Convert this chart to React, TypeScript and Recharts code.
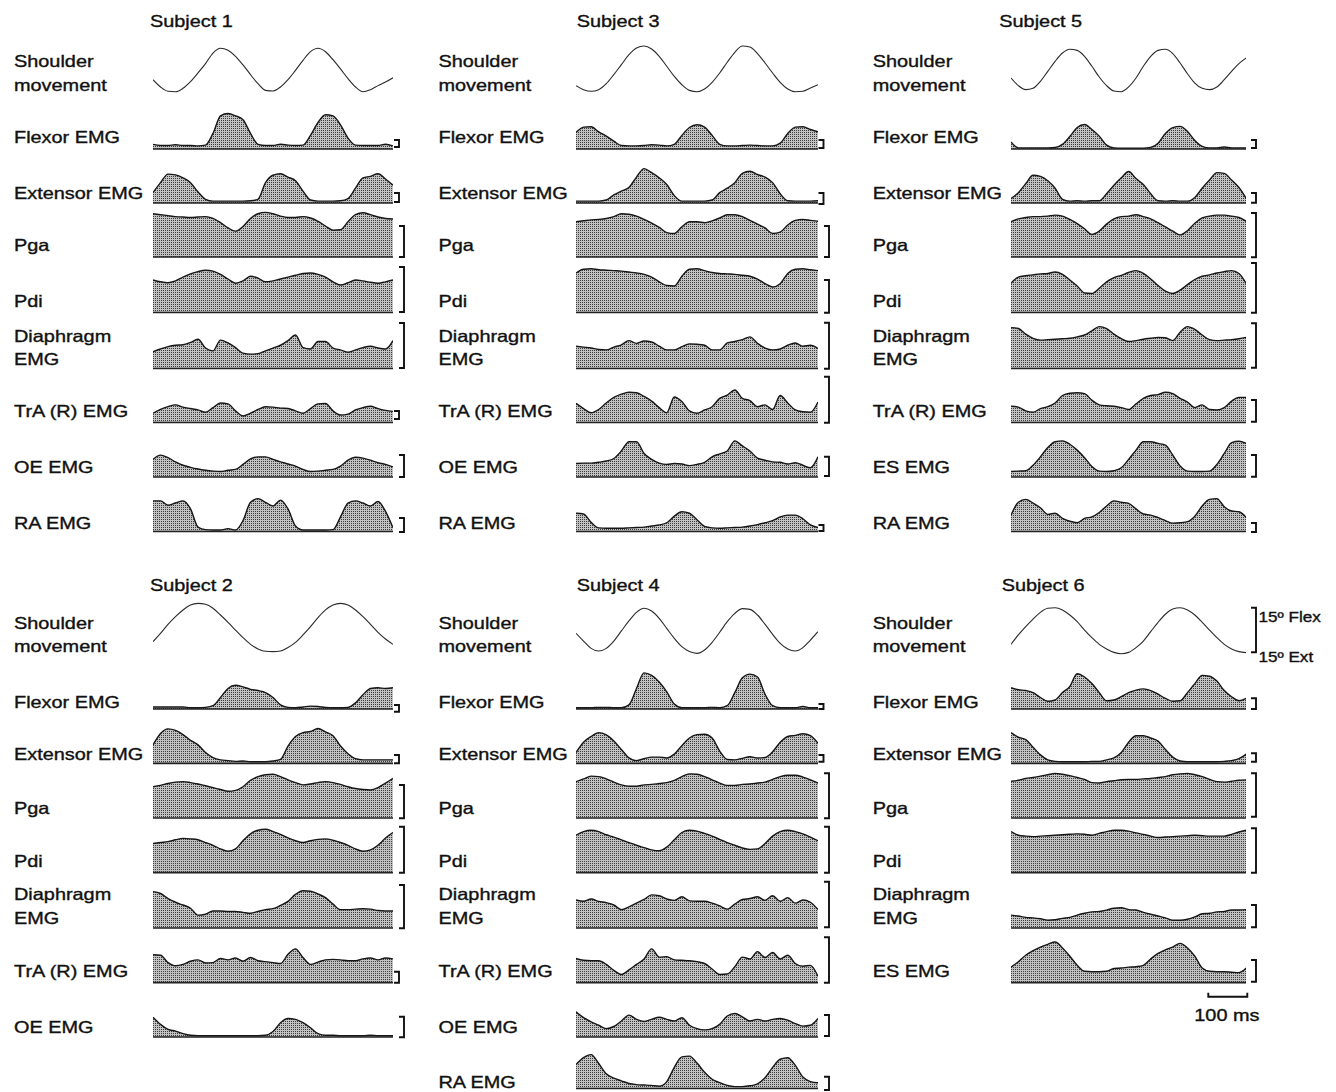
import React from 'react';
import { AreaChart, Area, LineChart, Line, XAxis, YAxis, ReferenceLine } from 'recharts';

// Shoulder movement traces are in degrees (+ = flexion), EMG / pressure traces
// are in % of the row height. Every trace has 33 evenly spaced samples.

// Subject 1
const s1Shoulder = [-6.5, -11.4, -14.3, -14.6, -12.3, -7.8, -2.0, 4.3, 11.4, 14.6, 13.2, 9.2, 3.4, -3.1, -9.2, -13.7, -14.1, -11.4, -6.5, -0.2, 6.5, 12.3, 14.6, 12.3, 6.9, 0.7, -5.8, -11.4, -14.6, -13.2, -10.5, -8.1, -5.2];
const s1Flexor = [12, 9, 9, 11, 9, 9, 8, 10, 40, 85, 91, 85, 75, 40, 12, 9, 9, 12, 10, 9, 10, 35, 68, 88, 85, 62, 28, 10, 9, 9, 9, 12, 8];
const s1Extensor = [28, 55, 78, 76, 68, 55, 30, 10, 5, 5, 5, 5, 5, 6, 10, 55, 75, 79, 70, 60, 32, 8, 5, 5, 5, 6, 12, 40, 68, 72, 79, 65, 48];
const s1Pga = [92, 90, 88, 86, 85, 84, 85, 86, 82, 73, 62, 55, 65, 82, 92, 95, 92, 87, 84, 84, 86, 83, 76, 66, 57, 58, 75, 90, 94, 90, 85, 82, 81];
const s1Pdi = [70, 66, 64, 68, 76, 83, 88, 91, 89, 82, 72, 63, 68, 78, 74, 66, 68, 72, 76, 80, 84, 85, 82, 76, 66, 59, 64, 70, 68, 65, 63, 66, 70];
const s1Diaphragm = [36, 42, 47, 50, 51, 56, 63, 44, 38, 61, 55, 45, 33, 31, 32, 38, 44, 50, 60, 72, 45, 42, 58, 58, 44, 40, 35, 40, 45, 48, 44, 42, 60];
const s1TrA = [20, 28, 34, 38, 33, 30, 27, 22, 32, 42, 40, 25, 14, 20, 28, 34, 33, 31, 30, 25, 20, 30, 40, 41, 25, 16, 18, 27, 32, 35, 30, 26, 24];
const s1OE = [42, 52, 46, 36, 28, 23, 19, 16, 14, 13, 16, 18, 30, 43, 48, 48, 42, 36, 31, 26, 18, 13, 14, 16, 18, 26, 40, 47, 45, 40, 34, 30, 24];
const s1RA = [84, 84, 72, 78, 84, 62, 12, 5, 4, 4, 8, 4, 30, 80, 90, 80, 70, 86, 62, 15, 4, 4, 4, 4, 5, 40, 78, 84, 78, 70, 82, 55, 10];

// Subject 3
const s3Shoulder = [-10.5, -13.2, -14.3, -13.2, -9.2, -3.1, 3.6, 10.3, 14.8, 16.1, 14.1, 9.2, 2.5, -4.3, -9.9, -13.7, -14.6, -12.8, -8.3, -2.0, 5.2, 11.9, 16.1, 15.5, 11.0, 4.7, -2.0, -8.3, -12.8, -14.6, -14.3, -12.1, -9.9];
const s3Flexor = [42, 56, 57, 44, 33, 20, 9, 8, 8, 9, 11, 10, 8, 12, 35, 55, 62, 56, 35, 12, 8, 8, 9, 10, 9, 8, 8, 15, 40, 56, 57, 50, 44];
const s3Extensor = [5, 5, 5, 5, 8, 22, 32, 42, 70, 93, 82, 68, 50, 20, 5, 5, 5, 5, 8, 28, 40, 55, 80, 86, 77, 70, 55, 25, 6, 5, 5, 5, 6];
const s3Pga = [75, 77, 79, 80, 82, 86, 92, 91, 87, 80, 72, 63, 52, 50, 64, 75, 75, 73, 77, 83, 90, 90, 86, 78, 70, 62, 50, 53, 68, 78, 80, 78, 76];
const s3Pdi = [85, 93, 94, 92, 91, 90, 89, 87, 85, 82, 76, 66, 58, 57, 78, 93, 94, 90, 86, 84, 83, 82, 80, 78, 72, 62, 55, 62, 84, 93, 94, 92, 90];
const s3Diaphragm = [48, 46, 44, 41, 40, 46, 51, 60, 54, 59, 57, 48, 40, 40, 47, 53, 52, 50, 40, 40, 55, 58, 62, 68, 54, 44, 40, 42, 50, 55, 48, 50, 43];
const s3TrA = [41, 30, 21, 28, 42, 54, 61, 65, 64, 56, 46, 32, 21, 55, 45, 25, 20, 27, 34, 52, 59, 70, 52, 47, 34, 38, 28, 58, 42, 27, 23, 22, 44];
const s3OE = [32, 33, 33, 35, 38, 44, 62, 84, 84, 56, 42, 33, 30, 32, 31, 27, 30, 35, 48, 55, 62, 86, 74, 62, 45, 40, 36, 35, 31, 34, 28, 22, 48];
const s3RA = [50, 48, 25, 10, 9, 9, 9, 10, 11, 12, 15, 18, 24, 42, 54, 50, 32, 14, 10, 9, 10, 11, 12, 15, 19, 24, 30, 40, 45, 45, 35, 18, 11];

// Subject 5
const s5Shoulder = [-5.4, -10.5, -13.2, -12.3, -7.6, -0.9, 5.8, 11.4, 13.9, 13.2, 9.2, 2.5, -4.7, -10.5, -14.1, -14.6, -11.4, -5.4, 2.5, 9.2, 13.2, 13.9, 11.0, 4.7, -2.5, -8.8, -12.3, -13.2, -11.4, -6.5, -0.9, 4.3, 8.1];
const s5Flexor = [18, 3, 3, 3, 3, 3, 4, 12, 32, 55, 63, 50, 33, 10, 3, 2, 2, 2, 2, 4, 15, 40, 55, 58, 45, 22, 7, 3, 3, 5, 3, 3, 3];
const s5Extensor = [12, 28, 52, 75, 72, 60, 40, 10, 5, 6, 5, 6, 6, 25, 48, 68, 85, 66, 50, 25, 6, 5, 6, 5, 5, 15, 40, 62, 82, 80, 62, 42, 12];
const s5Pga = [75, 81, 84, 86, 86, 87, 89, 87, 80, 71, 60, 48, 55, 70, 81, 86, 87, 90, 86, 81, 73, 64, 55, 47, 56, 72, 83, 87, 89, 89, 87, 84, 76];
const s5Pdi = [63, 76, 79, 81, 83, 84, 87, 82, 70, 57, 42, 41, 52, 66, 75, 80, 86, 90, 84, 72, 58, 46, 41, 48, 60, 71, 78, 81, 85, 88, 90, 84, 62];
const s5Diaphragm = [88, 86, 74, 65, 61, 62, 63, 64, 65, 68, 72, 81, 90, 86, 74, 64, 58, 60, 63, 65, 67, 66, 60, 78, 90, 84, 72, 62, 60, 61, 62, 64, 67];
const s5TrA = [35, 33, 25, 22, 30, 34, 42, 58, 63, 64, 62, 48, 38, 36, 35, 32, 28, 40, 52, 58, 60, 65, 62, 52, 44, 32, 38, 28, 27, 32, 46, 54, 54];
const s5ES = [13, 14, 15, 28, 48, 70, 84, 86, 78, 64, 46, 25, 14, 13, 15, 22, 42, 64, 84, 84, 80, 76, 52, 26, 14, 13, 13, 14, 30, 56, 82, 85, 80];
const s5RA = [45, 80, 88, 78, 65, 47, 50, 36, 28, 24, 36, 40, 52, 70, 84, 80, 77, 62, 48, 45, 38, 30, 23, 24, 27, 42, 70, 88, 90, 68, 56, 54, 38];

// Subject 2
const s2Shoulder = [-8.5, -2.9, 3.1, 8.3, 12.8, 16.1, 17.2, 16.6, 13.9, 9.4, 4.5, -0.7, -5.8, -10.3, -13.4, -15.0, -15.2, -14.8, -12.5, -9.0, -4.0, 1.6, 7.6, 12.8, 16.1, 17.2, 16.1, 12.8, 8.3, 3.1, -2.2, -6.7, -10.3];
const s2Flexor = [5, 5, 5, 5, 5, 3, 3, 4, 8, 28, 50, 58, 54, 48, 45, 40, 28, 10, 4, 3, 5, 7, 6, 4, 3, 3, 4, 15, 35, 50, 52, 50, 52];
const s2Extensor = [48, 78, 90, 86, 75, 60, 48, 28, 15, 9, 7, 5, 6, 4, 4, 4, 6, 10, 45, 70, 80, 83, 91, 82, 72, 45, 25, 12, 9, 9, 9, 9, 9];
const s2Pga = [68, 71, 75, 78, 79, 77, 74, 70, 66, 62, 58, 60, 68, 82, 90, 94, 95, 90, 83, 77, 72, 74, 77, 79, 77, 73, 68, 64, 62, 61, 66, 76, 86];
const s2Pdi = [64, 66, 68, 72, 75, 74, 72, 66, 60, 52, 47, 52, 70, 85, 93, 95, 90, 84, 76, 70, 66, 70, 73, 74, 71, 66, 60, 52, 47, 50, 60, 76, 88];
const s2Diaphragm = [79, 75, 64, 56, 50, 43, 28, 30, 37, 37, 36, 36, 34, 32, 36, 40, 42, 49, 58, 73, 81, 80, 74, 66, 52, 40, 40, 41, 42, 41, 38, 37, 37];
const s2TrA = [61, 60, 44, 37, 40, 47, 50, 43, 44, 53, 50, 54, 47, 55, 48, 46, 44, 42, 62, 74, 55, 40, 45, 50, 51, 50, 48, 48, 52, 54, 50, 54, 52];
const s2OE = [47, 30, 18, 14, 8, 4, 3, 3, 3, 3, 3, 3, 3, 3, 3, 4, 13, 34, 44, 42, 34, 22, 8, 4, 4, 3, 3, 3, 3, 4, 3, 3, 3];

// Subject 4
const s4Shoulder = [-2.9, -8.1, -13.0, -14.8, -13.0, -8.1, -1.3, 5.4, 11.2, 13.9, 12.1, 7.2, 0.4, -6.3, -11.9, -15.2, -16.4, -14.1, -9.0, -2.2, 4.9, 10.5, 13.7, 13.2, 9.4, 3.1, -3.6, -9.6, -13.4, -14.8, -12.5, -7.4, -1.8];
const s4Flexor = [3, 3, 3, 4, 4, 3, 3, 10, 50, 88, 82, 66, 42, 12, 3, 3, 3, 3, 4, 3, 8, 40, 76, 85, 78, 36, 8, 3, 3, 3, 6, 3, 3];
const s4Extensor = [28, 55, 70, 80, 74, 58, 36, 14, 7, 12, 16, 16, 14, 24, 46, 66, 75, 76, 66, 32, 10, 9, 13, 17, 14, 15, 30, 55, 70, 73, 77, 72, 52];
const s4Pga = [79, 85, 91, 90, 85, 78, 72, 69, 69, 72, 73, 75, 77, 82, 90, 96, 95, 90, 83, 76, 71, 71, 73, 74, 76, 78, 84, 90, 93, 93, 89, 83, 76];
const s4Pdi = [82, 90, 93, 90, 83, 78, 72, 66, 60, 55, 50, 48, 56, 72, 88, 93, 91, 86, 80, 73, 66, 60, 54, 51, 52, 64, 80, 90, 93, 90, 85, 78, 70];
const s4Diaphragm = [61, 58, 63, 58, 55, 50, 40, 46, 54, 62, 72, 70, 63, 60, 68, 59, 58, 58, 54, 48, 41, 52, 62, 64, 68, 60, 70, 58, 66, 54, 61, 56, 40];
const s4TrA = [53, 49, 48, 48, 40, 27, 18, 28, 40, 52, 74, 56, 57, 50, 49, 48, 46, 42, 30, 18, 19, 35, 56, 52, 68, 55, 66, 52, 60, 42, 36, 38, 14];
const s4OE = [60, 46, 36, 28, 20, 25, 38, 52, 42, 37, 42, 47, 42, 38, 46, 28, 20, 17, 20, 30, 50, 56, 48, 38, 42, 38, 42, 44, 40, 32, 26, 28, 44];
const s4RA = [62, 80, 88, 65, 38, 27, 20, 13, 10, 9, 8, 6, 18, 55, 82, 84, 66, 42, 24, 15, 8, 5, 5, 7, 12, 28, 55, 76, 80, 60, 30, 18, 15];

// Subject 6
const s6Shoulder = [-10.3, -4.0, 1.6, 6.7, 11.2, 13.9, 14.3, 12.8, 9.4, 4.9, -0.7, -5.8, -10.3, -13.4, -15.7, -16.6, -15.7, -12.5, -8.1, -1.8, 4.5, 9.9, 13.4, 14.3, 12.8, 9.4, 4.5, -0.7, -5.8, -10.3, -13.4, -15.2, -15.9];
const s6Flexor = [52, 47, 45, 40, 28, 19, 22, 40, 55, 86, 78, 62, 40, 20, 22, 30, 40, 46, 49, 45, 36, 26, 19, 20, 40, 62, 82, 80, 68, 45, 30, 20, 26];
const s6Extensor = [80, 68, 62, 42, 22, 9, 5, 4, 4, 4, 4, 5, 5, 9, 14, 28, 55, 72, 72, 66, 58, 36, 16, 6, 4, 4, 4, 4, 4, 5, 7, 12, 24];
const s6Pga = [80, 82, 86, 88, 91, 94, 97, 95, 92, 88, 84, 77, 76, 79, 81, 83, 84, 84, 85, 86, 88, 90, 94, 96, 97, 94, 90, 84, 79, 78, 80, 82, 83];
const s6Pdi = [90, 82, 80, 79, 80, 81, 82, 83, 84, 85, 84, 82, 86, 90, 93, 93, 91, 87, 84, 80, 77, 78, 79, 80, 81, 82, 81, 80, 80, 80, 84, 89, 93];
const s6Diaphragm = [28, 26, 23, 22, 20, 17, 18, 21, 23, 28, 32, 35, 36, 39, 43, 44, 40, 39, 34, 30, 26, 22, 17, 17, 19, 24, 31, 32, 35, 36, 39, 39, 40];
const s6ES = [34, 46, 60, 70, 78, 84, 89, 76, 58, 38, 25, 24, 24, 25, 31, 32, 34, 35, 38, 52, 64, 72, 78, 86, 76, 58, 32, 25, 24, 24, 23, 22, 32];

// ---- layout ----
const FONT = '"Liberation Sans", Arial, Helvetica, sans-serif';
const INK = '#111';
const STRETCH = 1.22; // the figure's lettering is wider than plain Arial

const COL_X = [152.7, 575.7, 1010.7];
const COL_W = [240, 242, 235.3];
const LABEL_X = [14, 438.5, 872.7];
const BRACKET_X = [404, 829, 1256];
const SMALL_BRACKET_X = [399, 823.5, 1256];

type RowKey = 'flexor' | 'extensor' | 'pga' | 'pdi' | 'dia' | 'tra' | 'oe' | 'ra';

interface Half {
  title: number;
  shoulderMid: number;
  shoulderLabel: number[];
  box: Record<RowKey, [number, number]>;
  label: Record<RowKey, number[]>;
}

const HALVES: Half[] = [
  {
    title: 26.7,
    shoulderMid: 70.3,
    shoulderLabel: [66.7, 90.7],
    box: { flexor: [110, 149], extensor: [166, 203], pga: [210, 257], pdi: [266, 312.5], dia: [322, 368.5], tra: [376, 422.5], oe: [435, 477], ra: [495, 531.5] },
    label: { flexor: [143.3], extensor: [199], pga: [250.5], pdi: [306.7], dia: [341.7, 365], tra: [416.7], oe: [473], ra: [529] },
  },
  {
    title: 590.5,
    shoulderMid: 629,
    shoulderLabel: [629, 651.5],
    box: { flexor: [668, 709], extensor: [725, 763.3], pga: [772, 818], pdi: [827, 872.7], dia: [882, 928], tra: [937, 982.7], oe: [995, 1037], ra: [1050, 1088.5] },
    label: { flexor: [707.7], extensor: [759.5], pga: [814.3], pdi: [867.3], dia: [900, 924], tra: [976.7], oe: [1032.7], ra: [1088.3] },
  },
];

interface TraceRow { key: RowKey; label: string[]; data: number[]; bracket: [number, number] }
interface Panel { title: string; titleX: number; col: number; half: number; shoulder: number[]; rows: TraceRow[] }

const panels: Panel[] = [
  {
    title: 'Subject 1', titleX: 150, col: 0, half: 0, shoulder: s1Shoulder,
    rows: [
      { key: 'flexor', label: ['Flexor EMG'], data: s1Flexor, bracket: [140, 147] },
      { key: 'extensor', label: ['Extensor EMG'], data: s1Extensor, bracket: [193, 202] },
      { key: 'pga', label: ['Pga'], data: s1Pga, bracket: [226, 257] },
      { key: 'pdi', label: ['Pdi'], data: s1Pdi, bracket: [267, 312] },
      { key: 'dia', label: ['Diaphragm', 'EMG'], data: s1Diaphragm, bracket: [323, 368] },
      { key: 'tra', label: ['TrA (R) EMG'], data: s1TrA, bracket: [411, 419] },
      { key: 'oe', label: ['OE EMG'], data: s1OE, bracket: [455, 477] },
      { key: 'ra', label: ['RA EMG'], data: s1RA, bracket: [518, 532] },
    ],
  },
  {
    title: 'Subject 3', titleX: 576.7, col: 1, half: 0, shoulder: s3Shoulder,
    rows: [
      { key: 'flexor', label: ['Flexor EMG'], data: s3Flexor, bracket: [140, 148] },
      { key: 'extensor', label: ['Extensor EMG'], data: s3Extensor, bracket: [193, 204] },
      { key: 'pga', label: ['Pga'], data: s3Pga, bracket: [226, 257] },
      { key: 'pdi', label: ['Pdi'], data: s3Pdi, bracket: [280, 312.7] },
      { key: 'dia', label: ['Diaphragm', 'EMG'], data: s3Diaphragm, bracket: [322.7, 368.7] },
      { key: 'tra', label: ['TrA (R) EMG'], data: s3TrA, bracket: [376.7, 422.7] },
      { key: 'oe', label: ['OE EMG'], data: s3OE, bracket: [456.7, 476] },
      { key: 'ra', label: ['RA EMG'], data: s3RA, bracket: [525, 531] },
    ],
  },
  {
    title: 'Subject 5', titleX: 999.3, col: 2, half: 0, shoulder: s5Shoulder,
    rows: [
      { key: 'flexor', label: ['Flexor EMG'], data: s5Flexor, bracket: [140, 148] },
      { key: 'extensor', label: ['Extensor EMG'], data: s5Extensor, bracket: [193, 202.7] },
      { key: 'pga', label: ['Pga'], data: s5Pga, bracket: [213, 257.3] },
      { key: 'pdi', label: ['Pdi'], data: s5Pdi, bracket: [263, 312.7] },
      { key: 'dia', label: ['Diaphragm', 'EMG'], data: s5Diaphragm, bracket: [323.3, 367.7] },
      { key: 'tra', label: ['TrA (R) EMG'], data: s5TrA, bracket: [400, 421.7] },
      { key: 'oe', label: ['ES EMG'], data: s5ES, bracket: [455, 476.7] },
      { key: 'ra', label: ['RA EMG'], data: s5RA, bracket: [523, 532] },
    ],
  },
  {
    title: 'Subject 2', titleX: 150, col: 0, half: 1, shoulder: s2Shoulder,
    rows: [
      { key: 'flexor', label: ['Flexor EMG'], data: s2Flexor, bracket: [705, 711.7] },
      { key: 'extensor', label: ['Extensor EMG'], data: s2Extensor, bracket: [755, 763.3] },
      { key: 'pga', label: ['Pga'], data: s2Pga, bracket: [785, 818.3] },
      { key: 'pdi', label: ['Pdi'], data: s2Pdi, bracket: [826.7, 872.7] },
      { key: 'dia', label: ['Diaphragm', 'EMG'], data: s2Diaphragm, bracket: [885, 928.3] },
      { key: 'tra', label: ['TrA (R) EMG'], data: s2TrA, bracket: [971.7, 982.7] },
      { key: 'oe', label: ['OE EMG'], data: s2OE, bracket: [1016.7, 1037.3] },
    ],
  },
  {
    title: 'Subject 4', titleX: 576.7, col: 1, half: 1, shoulder: s4Shoulder,
    rows: [
      { key: 'flexor', label: ['Flexor EMG'], data: s4Flexor, bracket: [704, 709] },
      { key: 'extensor', label: ['Extensor EMG'], data: s4Extensor, bracket: [755, 761.7] },
      { key: 'pga', label: ['Pga'], data: s4Pga, bracket: [773.3, 818.3] },
      { key: 'pdi', label: ['Pdi'], data: s4Pdi, bracket: [826.7, 872.7] },
      { key: 'dia', label: ['Diaphragm', 'EMG'], data: s4Diaphragm, bracket: [881.7, 927.3] },
      { key: 'tra', label: ['TrA (R) EMG'], data: s4TrA, bracket: [937.3, 982.7] },
      { key: 'oe', label: ['OE EMG'], data: s4OE, bracket: [1015, 1036] },
      { key: 'ra', label: ['RA EMG'], data: s4RA, bracket: [1076.7, 1090] },
    ],
  },
  {
    title: 'Subject 6', titleX: 1001.7, col: 2, half: 1, shoulder: s6Shoulder,
    rows: [
      { key: 'flexor', label: ['Flexor EMG'], data: s6Flexor, bracket: [698.3, 709] },
      { key: 'extensor', label: ['Extensor EMG'], data: s6Extensor, bracket: [753.3, 761.7] },
      { key: 'pga', label: ['Pga'], data: s6Pga, bracket: [773.3, 816.7] },
      { key: 'pdi', label: ['Pdi'], data: s6Pdi, bracket: [828.3, 872.7] },
      { key: 'dia', label: ['Diaphragm', 'EMG'], data: s6Diaphragm, bracket: [905, 927.3] },
      { key: 'tra', label: ['ES EMG'], data: s6ES, bracket: [960, 981.7] },
    ],
  },
];

const toPoints = (vals: number[]) => vals.map((v, i) => ({ i, v }));

function Txt({ x, y, text, size = 16.3 }: { x: number; y: number; text: string; size?: number }) {
  return (
    <text
      transform={`translate(${x} ${y}) scale(${STRETCH} 1)`}
      fontFamily={FONT}
      fontSize={size}
      fill={INK}
      stroke={INK}
      strokeWidth={0.35}
    >
      {text}
    </text>
  );
}

function Bracket({ x, top, bottom }: { x: number; top: number; bottom: number }) {
  return <path d={`M${x - 5} ${top}H${x}V${bottom}H${x - 5}`} fill="none" stroke={INK} strokeWidth={1.9} />;
}

function Trace({ x, width, top, bottom, data }: { x: number; width: number; top: number; bottom: number; data: number[] }) {
  const h = bottom - top;
  return (
    <div style={{ position: 'absolute', left: x, top: top - 2 }}>
      <AreaChart width={width} height={h + 4} data={toPoints(data)} margin={{ top: 2, right: 0, bottom: 2, left: 0 }}>
        <XAxis dataKey="i" hide />
        <YAxis hide domain={[0, 100]} />
        <Area
          type="monotone"
          dataKey="v"
          stroke="#161616"
          strokeWidth={1.4}
          fill="url(#stipple)"
          fillOpacity={1}
          dot={false}
          activeDot={false}
          isAnimationActive={false}
        />
        <ReferenceLine y={0} stroke="#222" strokeWidth={1.7} />
      </AreaChart>
    </div>
  );
}

function Shoulder({ x, width, mid, data }: { x: number; width: number; mid: number; data: number[] }) {
  return (
    <div style={{ position: 'absolute', left: x, top: mid - 30 }}>
      <LineChart width={width} height={60} data={toPoints(data)} margin={{ top: 0, right: 0, bottom: 0, left: 0 }}>
        <XAxis dataKey="i" hide />
        <YAxis hide domain={[-20.16, 20.16]} />
        <Line type="monotone" dataKey="v" stroke="#2a2a2a" strokeWidth={1.1} dot={false} activeDot={false} isAnimationActive={false} />
      </LineChart>
    </div>
  );
}

export default function App() {
  return (
    <div style={{ position: 'absolute', left: 0, top: 0, width: 1336, height: 1092, background: '#fff', overflow: 'hidden' }}>
      <svg width={1336} height={1092} style={{ position: 'absolute', left: 0, top: 0 }}>
        <defs>
          <pattern id="stipple" width={2} height={2} patternUnits="userSpaceOnUse">
            <rect width={2} height={2} fill="#c2c2c2" />
            <rect width={1} height={1} fill="#3a3a3a" />
          </pattern>
        </defs>
        {panels.map((p) => {
          const half = HALVES[p.half];
          const lx = LABEL_X[p.col];
          return (
            <g key={p.title}>
              <Txt x={p.titleX} y={half.title} text={p.title} />
              <Txt x={lx} y={half.shoulderLabel[0]} text="Shoulder" />
              <Txt x={lx} y={half.shoulderLabel[1]} text="movement" />
              {p.rows.map((r) => {
                const small = r.bracket[1] - r.bracket[0] < 12;
                return (
                  <g key={r.key}>
                    {r.label.map((line, k) => (
                      <Txt key={k} x={lx} y={half.label[r.key][k]} text={line} />
                    ))}
                    <Bracket x={small ? SMALL_BRACKET_X[p.col] : BRACKET_X[p.col]} top={r.bracket[0]} bottom={r.bracket[1]} />
                  </g>
                );
              })}
            </g>
          );
        })}
        {/* shoulder angle scale */}
        <Bracket x={1256} top={607.7} bottom={652.3} />
        <Txt x={1258.5} y={621.5} text="15º Flex" size={14} />
        <Txt x={1258.5} y={661.5} text="15º Ext" size={14} />
        {/* time scale */}
        <path d="M1208.3 992.7V996.7H1247.3V992.7" fill="none" stroke={INK} strokeWidth={1.9} />
        <Txt x={1194.3} y={1020.7} text="100 ms" />
      </svg>
      {panels.map((p) => {
        const half = HALVES[p.half];
        return (
          <React.Fragment key={p.title}>
            <Shoulder x={COL_X[p.col]} width={COL_W[p.col]} mid={half.shoulderMid} data={p.shoulder} />
            {p.rows.map((r) => (
              <Trace
                key={r.key}
                x={COL_X[p.col]}
                width={COL_W[p.col]}
                top={half.box[r.key][0]}
                bottom={half.box[r.key][1]}
                data={r.data}
              />
            ))}
          </React.Fragment>
        );
      })}
    </div>
  );
}
